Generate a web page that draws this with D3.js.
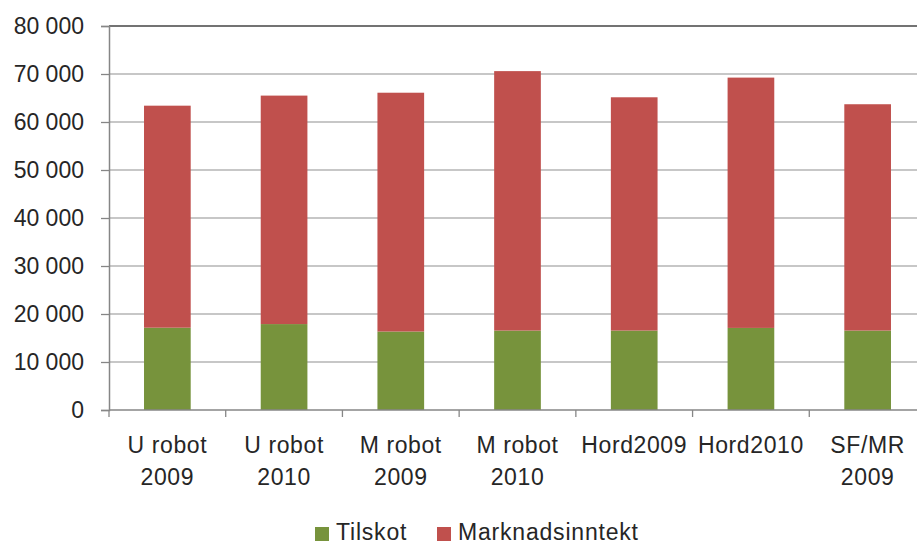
<html>
<head>
  <style>
    body { margin: 0; background: #fff; }
    text { font-family: "Liberation Sans", Arial, sans-serif; fill: #262626; }
  </style>
</head>
<body>
<div id="chart"></div>
<script src="https://d3js.org/d3.v7.min.js"></script>
<script>

// data
var categories = ["U robot|2009", "U robot|2010", "M robot|2009", "M robot|2010", "Hord2009", "Hord2010", "SF/MR|2009"];
var tilskot = [17150, 17900, 16350, 16550, 16550, 17100, 16550];
var marknad = [46250, 47600, 49750, 54050, 48600, 52150, 47150];   // stacked on top of tilskot
var seriesNames = ["Tilskot", "Marknadsinntekt"];
var seriesColors = ["#77933C", "#C0504D"];
var yTicks = [0, 10000, 20000, 30000, 40000, 50000, 60000, 70000, 80000];

let width = 917, height = 544;
let mLeft = 109, mRight = 926, mTop = 26, mBottom = 410;

let svg = d3.select("#chart")
  .append("svg")
    .attr("width", width)
    .attr("height", height);

let x = d3.scaleBand()
  .domain(categories)
  .range([mLeft, mRight])
  .paddingInner(0.6)
  .paddingOuter(0.3);

let y = d3.scaleLinear()
  .domain([0, 80000])
  .range([mBottom, mTop]);

// gridlines
svg.append("g")
  .selectAll("line")
  .data(yTicks.slice(1))
  .enter()
  .append("line")
  .attr("x1", mLeft)
  .attr("x2", mRight)
  .attr("y1", d => y(d))
  .attr("y2", d => y(d))
  .attr("stroke", d => d == 80000 ? "#444" : "#b4b4b4")
  .attr("stroke-width", 1.3);

// stacked data
let rows = categories.map((c, i) => ({cat: c, Tilskot: tilskot[i], Marknadsinntekt: marknad[i]}));
let stacked = d3.stack().keys(seriesNames)(rows);

svg.append("g")
  .selectAll("g")
  .data(stacked)
  .enter()
  .append("g")
  .attr("fill", (d, i) => seriesColors[i])
  .selectAll("rect")
  .data(d => d)
  .enter()
  .append("rect")
  .attr("x", d => x(d.data.cat))
  .attr("width", x.bandwidth())
  .attr("y", d => y(d[1]))
  .attr("height", d => y(d[0]) - y(d[1]));

// y axis
let yAxis = svg.append("g")
  .attr("transform", "translate(" + mLeft + ",0)")
  .call(d3.axisLeft(y).tickValues(yTicks).tickSize(8).tickPadding(17)
    .tickFormat(d => d3.format(",")(d).replace(",", " ")));
yAxis.selectAll("line").attr("stroke", "#868686").attr("stroke-width", 1.3);
yAxis.select(".domain").attr("stroke", "#868686").attr("stroke-width", 1.5);
yAxis.selectAll("text").style("font-size", "23px").attr("fill", "#262626")
  .style("font-family", "Liberation Sans, Arial, sans-serif");

// x axis: ticks between categories
let step = x.step();
let xg = svg.append("g");
xg.append("line")
  .attr("x1", mLeft).attr("x2", mRight)
  .attr("y1", mBottom).attr("y2", mBottom)
  .attr("stroke", "#868686").attr("stroke-width", 1.5);
xg.selectAll(".tk")
  .data(d3.range(categories.length + 1))
  .enter()
  .append("line")
  .attr("x1", i => mLeft + i * step)
  .attr("x2", i => mLeft + i * step)
  .attr("y1", mBottom)
  .attr("y2", mBottom + 7)
  .attr("stroke", "#868686").attr("stroke-width", 1.3);

xg.selectAll(".lbl")
  .data(categories)
  .enter()
  .append("text")
  .attr("text-anchor", "middle")
  .attr("x", d => x(d) + x.bandwidth() / 2)
  .style("font-size", "23px")
  .style("letter-spacing", "0.6px")
  .each(function (d) {
    let parts = d.split("|");
    parts.forEach((p, j) => {
      d3.select(this).append("tspan")
        .attr("x", x(d) + x.bandwidth() / 2)
        .attr("y", 453 + j * 32)
        .text(p);
    });
  });

// legend
let legendX = [315, 437];
seriesNames.forEach((s, i) => {
  svg.append("rect")
    .attr("x", legendX[i])
    .attr("y", 527)
    .attr("width", 14)
    .attr("height", 14)
    .attr("fill", seriesColors[i]);
  svg.append("text")
    .attr("x", legendX[i] + 21)
    .attr("y", 540)
    .style("font-size", "23px")
    .style("letter-spacing", "0.8px")
    .text(s);
});

</script>
</body>
</html>
